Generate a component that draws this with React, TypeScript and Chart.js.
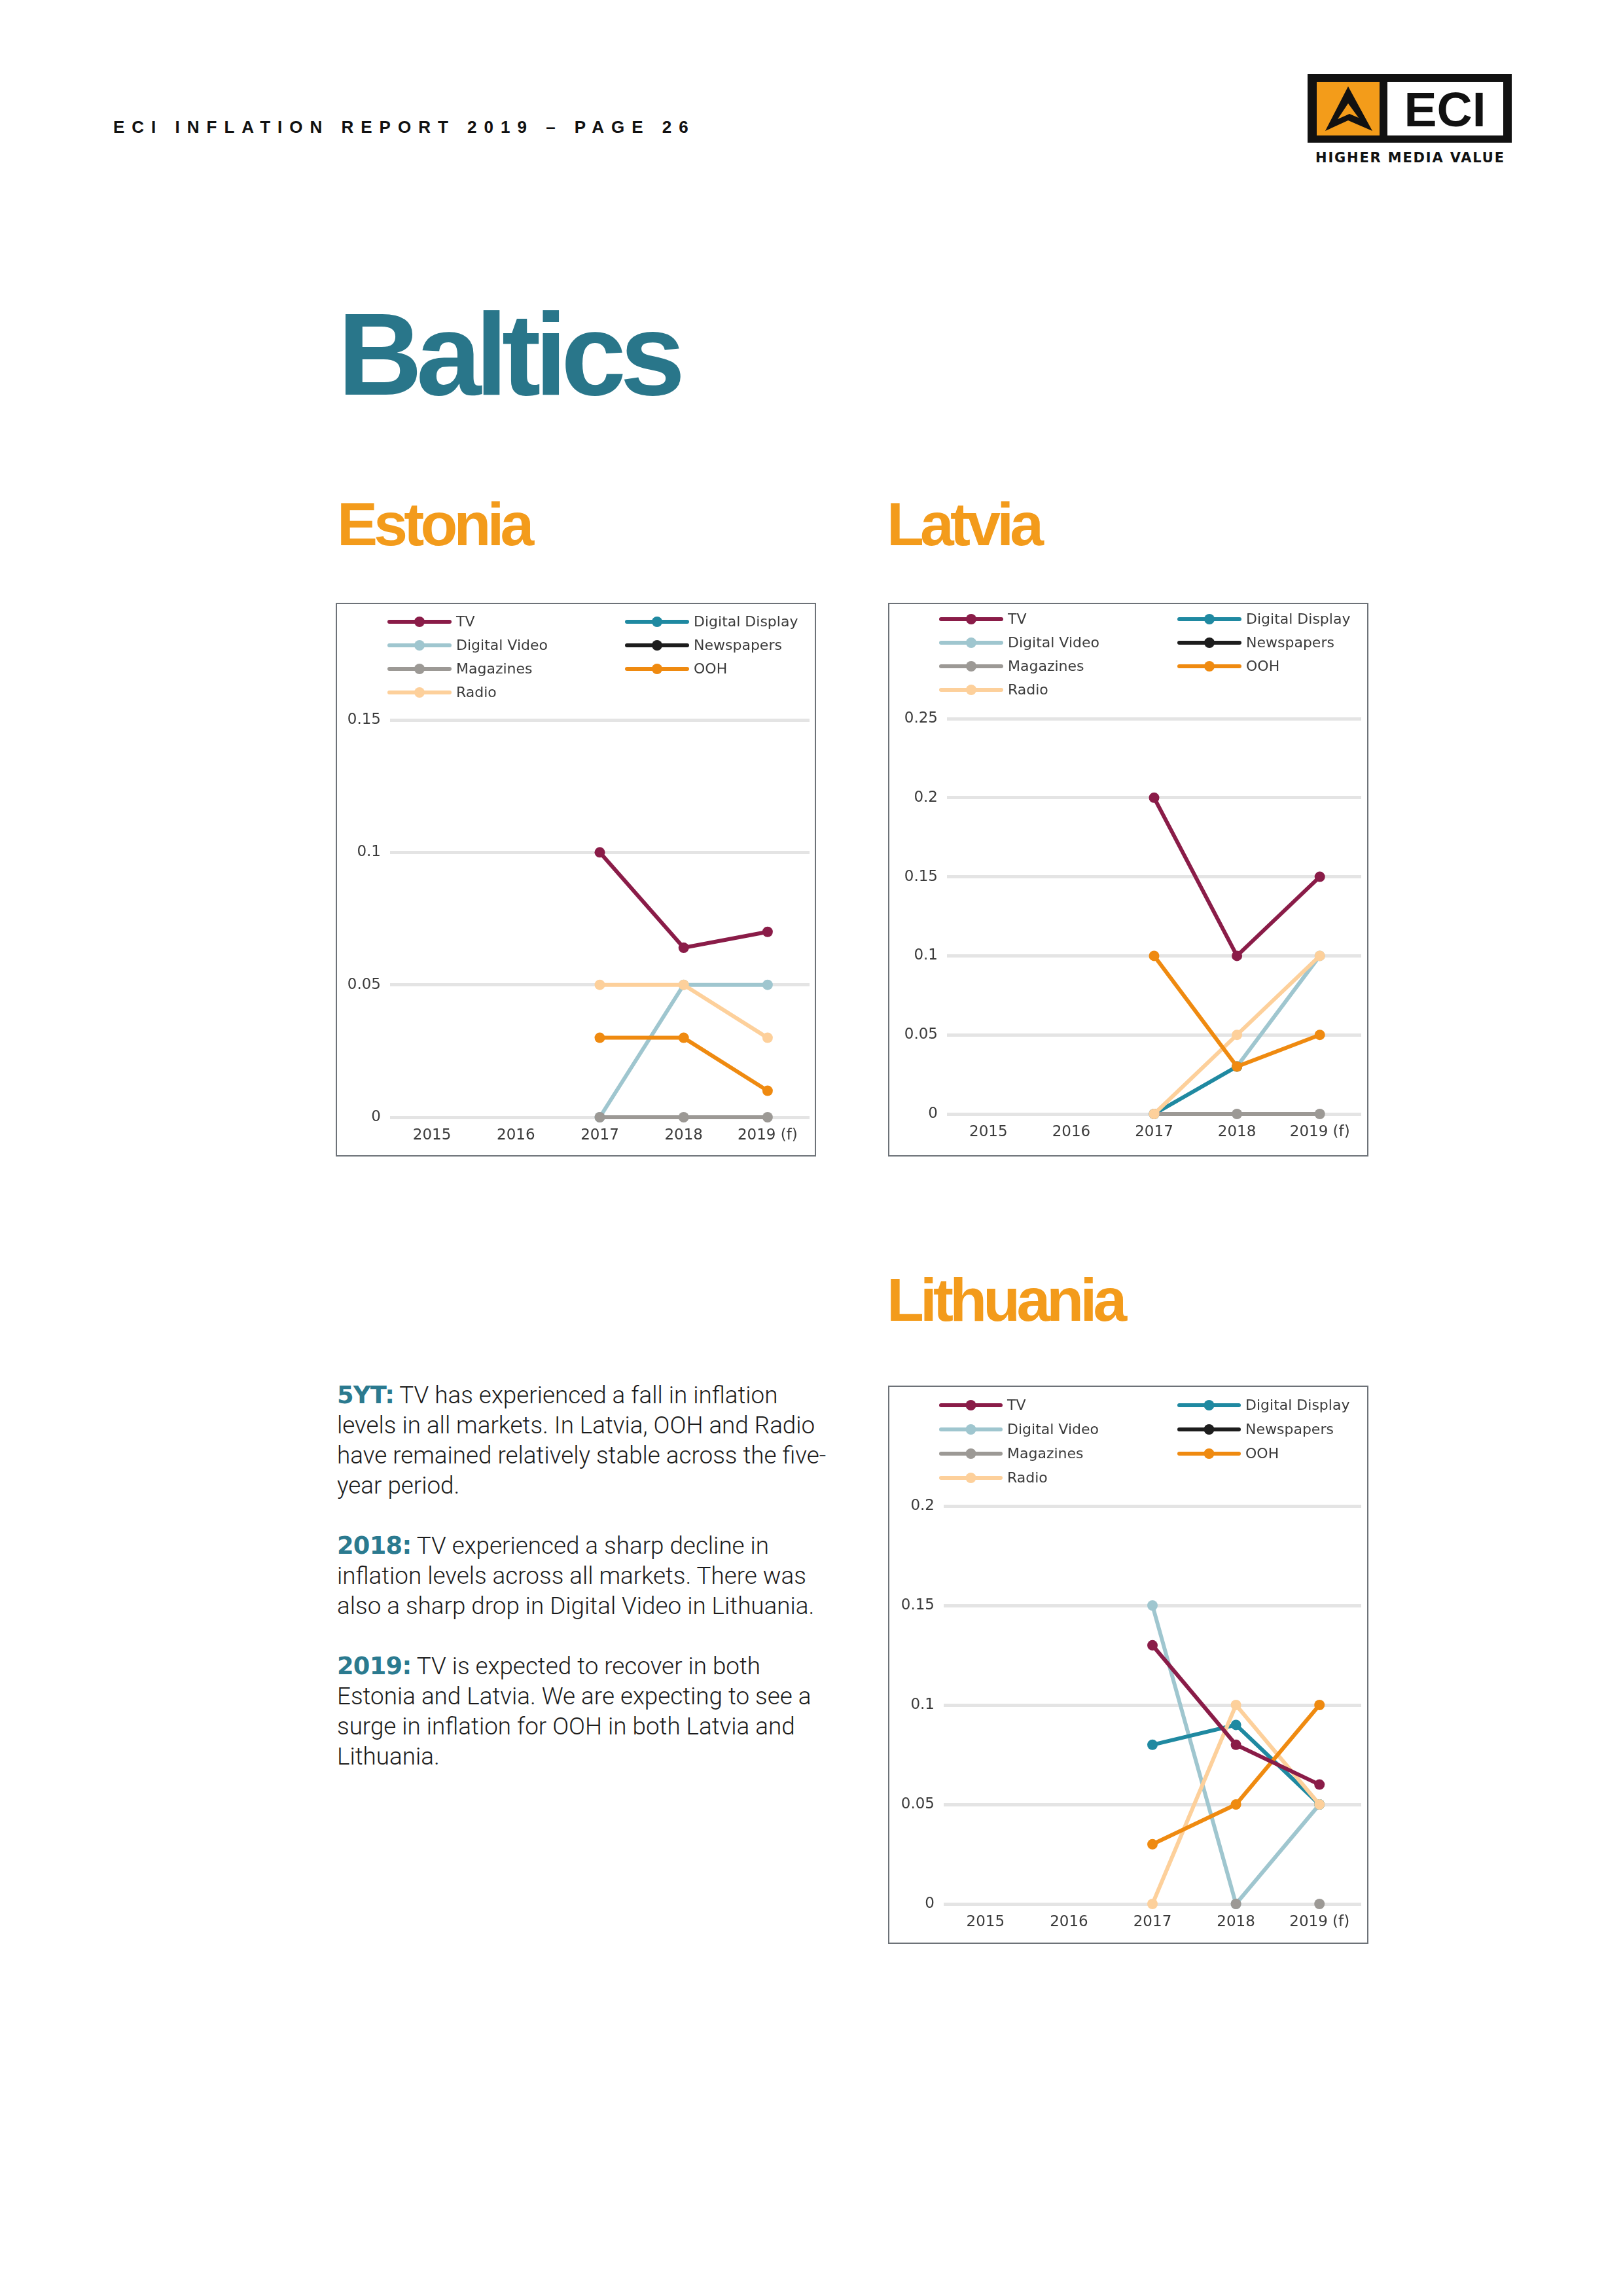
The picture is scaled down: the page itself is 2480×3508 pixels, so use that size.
import React, { useEffect, useRef } from 'react';
import { Chart, registerables } from 'chart.js';

Chart.register(...registerables);
Chart.defaults.font.family = '"DejaVu Sans", sans-serif';

// ---------- data ----------
const years = ['2015', '2016', '2017', '2018', '2019 (f)'];
const seriesNames = ['TV', 'Digital Video', 'Magazines', 'Radio', 'Digital Display', 'Newspapers', 'OOH'];
const seriesColors = ['#8a1c48', '#9fc6cf', '#9c9995', '#fdd09b', '#1f89a1', '#1d1d1d', '#ef8a10'];
const seriesDrawOrder = [0, 5, 3, 2, 4, 6, 1];

const estoniaTV = [null, null, 0.1, 0.064, 0.07];
const estoniaDigitalVideo = [null, null, 0, 0.05, 0.05];
const estoniaMagazines = [null, null, 0, 0, 0];
const estoniaRadio = [null, null, 0.05, 0.05, 0.03];
const estoniaDigitalDisplay = [null, null, null, null, null];
const estoniaNewspapers = [null, null, null, null, null];
const estoniaOOH = [null, null, 0.03, 0.03, 0.01];
const estoniaYTicks = [0, 0.05, 0.1, 0.15];

const latviaTV = [null, null, 0.2, 0.1, 0.15];
const latviaDigitalVideo = [null, null, 0, 0.03, 0.1];
const latviaMagazines = [null, null, 0, 0, 0];
const latviaRadio = [null, null, 0, 0.05, 0.1];
const latviaDigitalDisplay = [null, null, 0, 0.03, null];
const latviaNewspapers = [null, null, null, null, null];
const latviaOOH = [null, null, 0.1, 0.03, 0.05];
const latviaYTicks = [0, 0.05, 0.1, 0.15, 0.2, 0.25];

const lithuaniaTV = [null, null, 0.13, 0.08, 0.06];
const lithuaniaDigitalVideo = [null, null, 0.15, 0, 0.05];
const lithuaniaMagazines = [null, null, null, 0, 0];
const lithuaniaRadio = [null, null, 0, 0.1, 0.05];
const lithuaniaDigitalDisplay = [null, null, 0.08, 0.09, 0.05];
const lithuaniaNewspapers = [null, null, null, null, null];
const lithuaniaOOH = [null, null, 0.03, 0.05, 0.1];
const lithuaniaYTicks = [0, 0.05, 0.1, 0.15, 0.2];

// ---------- legend plugin ----------
const seriesLegend = {
  id: 'seriesLegend',
  afterDraw(chart: any, _args: any, opts: any) {
    const ctx = chart.ctx;
    ctx.save();
    chart.data.datasets.forEach((d: any, i: number) => {
      const col = i < 4 ? 0 : 1;
      const row = i < 4 ? i : i - 4;
      const x = opts.cols[col];
      const y = opts.top + row * opts.rowGap;
      ctx.strokeStyle = d.borderColor;
      ctx.lineWidth = 6;
      ctx.lineCap = 'round';
      ctx.beginPath();
      ctx.moveTo(x, y);
      ctx.lineTo(x + opts.lineLen, y);
      ctx.stroke();
      ctx.fillStyle = d.borderColor;
      ctx.beginPath();
      ctx.arc(x + opts.lineLen / 2, y, 8, 0, Math.PI * 2);
      ctx.fill();
      ctx.fillStyle = '#3b3b3b';
      ctx.font = '22px "DejaVu Sans"';
      ctx.textBaseline = 'middle';
      ctx.textAlign = 'left';
      ctx.fillText(d.label, x + opts.lineLen + 10, y + 1);
    });
    ctx.restore();
  },
};

type Layout = {
  w: number; h: number; left: number; top: number; right: number; bottom: number;
  legendTop: number; rowGap: number; cols: number[]; lineLen: number;
};

function CountryChart(props: { series: (number | null)[][]; yTicks: number[]; layout: Layout; lineless: string[] }) {
  const ref = useRef<HTMLCanvasElement>(null);
  const { series, yTicks, layout, lineless } = props;
  useEffect(() => {
    if (!ref.current) return;
    const tickFont = { size: 23, family: '"DejaVu Sans", sans-serif' };
    const chart = new Chart(ref.current, {
      type: 'line',
      data: {
        labels: years,
        datasets: seriesNames.map((name, i) => ({
          label: name,
          data: series[i],
          borderColor: seriesColors[i],
          backgroundColor: seriesColors[i],
          pointBackgroundColor: seriesColors[i],
          pointBorderWidth: 0,
          pointRadius: 8,
          pointHoverRadius: 8,
          borderWidth: 6,
          tension: 0,
          spanGaps: false,
          showLine: !lineless.includes(name),
          order: seriesDrawOrder[i],
          clip: 20,
        })),
      },
      options: {
        animation: false,
        responsive: false,
        devicePixelRatio: 1,
        events: [],
        layout: { padding: { top: layout.top, right: layout.w - layout.right, bottom: 0, left: 0 } },
        plugins: {
          legend: { display: false },
          tooltip: { enabled: false },
          seriesLegend: { top: layout.legendTop, rowGap: layout.rowGap, cols: layout.cols, lineLen: layout.lineLen },
        } as any,
        scales: {
          x: {
            type: 'category',
            offset: true,
            grid: { display: false },
            border: { display: false },
            ticks: { font: tickFont, color: '#3b3b3b', padding: 6, maxRotation: 0, autoSkip: false },
            afterFit: (s: any) => { s.height = layout.h - layout.bottom; },
          },
          y: {
            min: 0,
            max: yTicks[yTicks.length - 1],
            grid: { color: '#e4e4e4', lineWidth: 5, drawTicks: false },
            border: { display: false },
            ticks: {
              font: tickFont,
              color: '#3b3b3b',
              padding: 14,
              callback: (v: any) => String(Number(Number(v).toFixed(2))),
            },
            afterBuildTicks: (s: any) => { s.ticks = yTicks.map((v) => ({ value: v })); },
            afterFit: (s: any) => { s.width = layout.left; },
          },
        } as any,
      },
      plugins: [seriesLegend as any],
    });
    return () => chart.destroy();
  }, []);
  return <canvas ref={ref} width={layout.w} height={layout.h} style={{ display: 'block', width: layout.w, height: layout.h }} />;
}

const boxStyle = (left: number, top: number, w: number, h: number): React.CSSProperties => ({
  position: 'absolute', left, top, width: w, height: h, border: '2px solid #6d7278', background: '#fff',
});

const countryTitle = (left: number, top: number): React.CSSProperties => ({
  position: 'absolute', left, top, margin: 0, fontFamily: '"Liberation Sans", Arial, sans-serif', fontWeight: 700,
  fontSize: 93, lineHeight: '93px', letterSpacing: '-0.062em', color: '#f39b1b', whiteSpace: 'nowrap',
});

const para: React.CSSProperties = { whiteSpace: 'nowrap', height: 46 };
const lead: React.CSSProperties = { fontFamily: '"DejaVu Sans", "Liberation Sans", sans-serif', fontWeight: 700, color: '#2b7a8f', letterSpacing: '-0.02em' };

export default function App() {
  const estoniaLayout: Layout = { w: 730, h: 842, left: 81, top: 177, right: 722, bottom: 784, legendTop: 27, rowGap: 36, cols: [80, 443], lineLen: 92 };
  const latviaLayout: Layout = { w: 730, h: 842, left: 88, top: 175, right: 721, bottom: 779, legendTop: 23, rowGap: 36, cols: [79, 443], lineLen: 92 };
  const lithuaniaLayout: Layout = { w: 730, h: 849, left: 83, top: 182, right: 721, bottom: 790, legendTop: 28, rowGap: 37, cols: [79, 443], lineLen: 91 };

  return (
    <div style={{ position: 'absolute', left: 0, top: 0, width: 2480, height: 3508, background: '#fff', overflow: 'hidden' }}>
      <div style={{ position: 'absolute', left: 173, top: 181, fontFamily: '"Liberation Sans", Arial, sans-serif', fontWeight: 700, fontSize: 26, lineHeight: '26px', letterSpacing: 11, color: '#111', whiteSpace: 'nowrap' }}>
        ECI INFLATION REPORT 2019 – PAGE 26
      </div>

      <svg style={{ position: 'absolute', left: 1990, top: 100 }} width={330} height={160} viewBox="0 0 330 160">
        <rect x={8} y={13} width={312} height={105} fill="#111" />
        <rect x={22} y={25} width={96} height={82} fill="#f39c1a" />
        <rect x={130} y={25} width={177} height={82} fill="#fff" />
        <polygon points="70,32 107,100 70,84 35,100" fill="#111" />
        <polygon points="70,58 54,82 72,74 86,80" fill="#f39c1a" />
        <text x={218} y={93} textAnchor="middle" fontFamily='"Liberation Sans", Arial, sans-serif' fontWeight={700} fontSize={75} fill="#111">ECI</text>
        <text x={20} y={148} textLength={288} lengthAdjust="spacing" fontFamily='"DejaVu Sans", sans-serif' fontWeight={700} fontSize={21} fill="#111">HIGHER MEDIA VALUE</text>
      </svg>

      <div style={{ position: 'absolute', left: 516, top: 452, fontFamily: '"Liberation Sans", Arial, sans-serif', fontWeight: 700, fontSize: 179, lineHeight: '179px', letterSpacing: '-0.052em', color: '#29768a', whiteSpace: 'nowrap' }}>
        Baltics
      </div>

      <div style={countryTitle(515, 755)}>Estonia</div>
      <div style={countryTitle(1355, 755)}>Latvia</div>
      <div style={countryTitle(1355, 1940)}>Lithuania</div>

      <div style={boxStyle(513, 921, 730, 842)}>
        <CountryChart
          series={[estoniaTV, estoniaDigitalVideo, estoniaMagazines, estoniaRadio, estoniaDigitalDisplay, estoniaNewspapers, estoniaOOH]}
          yTicks={estoniaYTicks}
          layout={estoniaLayout}
          lineless={[]}
        />
      </div>
      <div style={boxStyle(1357, 921, 730, 842)}>
        <CountryChart
          series={[latviaTV, latviaDigitalVideo, latviaMagazines, latviaRadio, latviaDigitalDisplay, latviaNewspapers, latviaOOH]}
          yTicks={latviaYTicks}
          layout={latviaLayout}
          lineless={[]}
        />
      </div>
      <div style={boxStyle(1357, 2117, 730, 849)}>
        <CountryChart
          series={[lithuaniaTV, lithuaniaDigitalVideo, lithuaniaMagazines, lithuaniaRadio, lithuaniaDigitalDisplay, lithuaniaNewspapers, lithuaniaOOH]}
          yTicks={lithuaniaYTicks}
          layout={lithuaniaLayout}
          lineless={['Magazines']}
        />
      </div>

      <div style={{ position: 'absolute', left: 515, top: 2109, fontFamily: 'Roboto, "Liberation Sans", sans-serif', fontWeight: 300, fontSize: 36.8, lineHeight: '46px', color: '#1b1b1b' }}>
        <div style={para}><span style={lead}>5YT:</span> TV has experienced a fall in inflation</div>
        <div style={para}>levels in all markets. In Latvia, OOH and Radio</div>
        <div style={para}>have remained relatively stable across the five-</div>
        <div style={para}>year period.</div>
        <div style={para}></div>
        <div style={para}><span style={lead}>2018:</span> TV experienced a sharp decline in</div>
        <div style={para}>inflation levels across all markets. There was</div>
        <div style={para}>also a sharp drop in Digital Video in Lithuania.</div>
        <div style={para}></div>
        <div style={para}><span style={lead}>2019:</span> TV is expected to recover in both</div>
        <div style={para}>Estonia and Latvia. We are expecting to see a</div>
        <div style={para}>surge in inflation for OOH in both Latvia and</div>
        <div style={para}>Lithuania.</div>
      </div>
    </div>
  );
}
